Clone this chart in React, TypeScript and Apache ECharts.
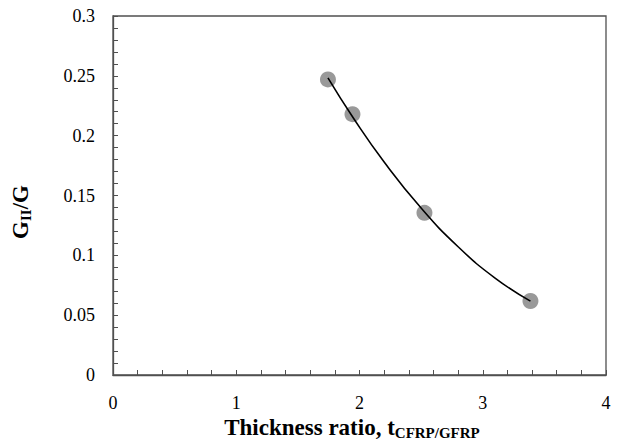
import React, { useEffect, useRef } from "react";
import * as echarts from "echarts";

const pointX = [1.744, 1.943, 2.527, 3.387];
const pointY = [0.247, 0.218, 0.1355, 0.0618];
const trendX = [1.744, 1.95, 2.2, 2.5, 2.8, 3.1, 3.387];
const trendY = [0.2483, 0.2148, 0.178, 0.1395, 0.1072, 0.081, 0.0617];

const xTitle = "Thickness ratio, t";
const xTitleSub = "CFRP/GFRP";
const yTitleA = "G";
const yTitleSub = "II";
const yTitleB = "/G";

const FONT = "Liberation Serif";

export default function App() {
  const ref = useRef<HTMLDivElement>(null);
  useEffect(() => {
    if (!ref.current) return;
    const chart = echarts.init(ref.current, undefined, { renderer: "svg" });
    const axisColor = "#505050";
    const rich = {
      a: { fontFamily: FONT, fontSize: 23, fontWeight: "bold", fill: "#000", color: "#000", lineHeight: 25, verticalAlign: "top" },
      b: { fontFamily: FONT, fontSize: 15, fontWeight: "bold", fill: "#000", color: "#000", lineHeight: 15, padding: [8, 0, 0, 0], verticalAlign: "bottom" },
    };
    const labelRich = {
      n: { fontFamily: FONT, fontSize: 18, fontWeight: "normal", color: "#000" },
    };
    chart.setOption({
      animation: false,
      backgroundColor: "#ffffff",
      textStyle: { fontFamily: FONT },
      grid: {
        left: 113,
        right: 12,
        top: 16,
        bottom: 65,
        show: true,
        borderColor: axisColor,
        borderWidth: 1.3,
        backgroundColor: "transparent",
      },
      xAxis: {
        type: "value",
        min: 0,
        max: 4,
        interval: 1,
        axisLine: { show: true, lineStyle: { color: axisColor, width: 1.3 } },
        axisTick: { show: true, inside: true, length: 5, lineStyle: { color: axisColor } },
        minorTick: { show: true, splitNumber: 5, length: 5, lineStyle: { color: axisColor } },
        splitLine: { show: false },
        axisLabel: {
          fontFamily: FONT,
          fontSize: 18,
          color: "#000",
          margin: 19,
          formatter: (v: number) => `{n|${v}}`,
          rich: labelRich,
        },
      },
      yAxis: {
        type: "value",
        min: 0,
        max: 0.3,
        interval: 0.05,
        axisLine: { show: true, lineStyle: { color: axisColor, width: 1.3 } },
        axisTick: { show: true, inside: true, length: 5, lineStyle: { color: axisColor } },
        minorTick: { show: true, splitNumber: 5, length: 5, lineStyle: { color: axisColor } },
        splitLine: { show: false },
        axisLabel: {
          fontFamily: FONT,
          fontSize: 18,
          color: "#000",
          margin: 18,
          formatter: (v: number) => `{n|${parseFloat(v.toFixed(4))}}`,
          rich: labelRich,
        },
      },
      graphic: [
        {
          type: "text",
          x: 352,
          y: 428,
          style: {
            text: `{a|${xTitle}}{b|${xTitleSub}}`,
            align: "center",
            verticalAlign: "middle",
            rich,
          },
        },
        {
          type: "text",
          x: 21,
          y: 212,
          rotation: Math.PI / 2,
          style: {
            text: `{a|${yTitleA}}{b|${yTitleSub}}{a|${yTitleB}}`,
            align: "center",
            verticalAlign: "middle",
            rich,
          },
        },
      ],
      series: [
        {
          type: "scatter",
          data: pointX.map((x, i) => [x, pointY[i]]),
          symbol: "circle",
          symbolSize: 16,
          itemStyle: { color: "#808080" },
          z: 2,
        },
        {
          type: "line",
          data: trendX.map((x, i) => [x, trendY[i]]),
          smooth: true,
          showSymbol: false,
          symbol: "none",
          lineStyle: { color: "#000", width: 1.6 },
          z: 3,
        },
      ],
    });
    return () => chart.dispose();
  }, []);
  return (
    <div
      ref={ref}
      style={{ position: "fixed", left: 0, top: 0, width: 618, height: 440, background: "#fff" }}
    />
  );
}
